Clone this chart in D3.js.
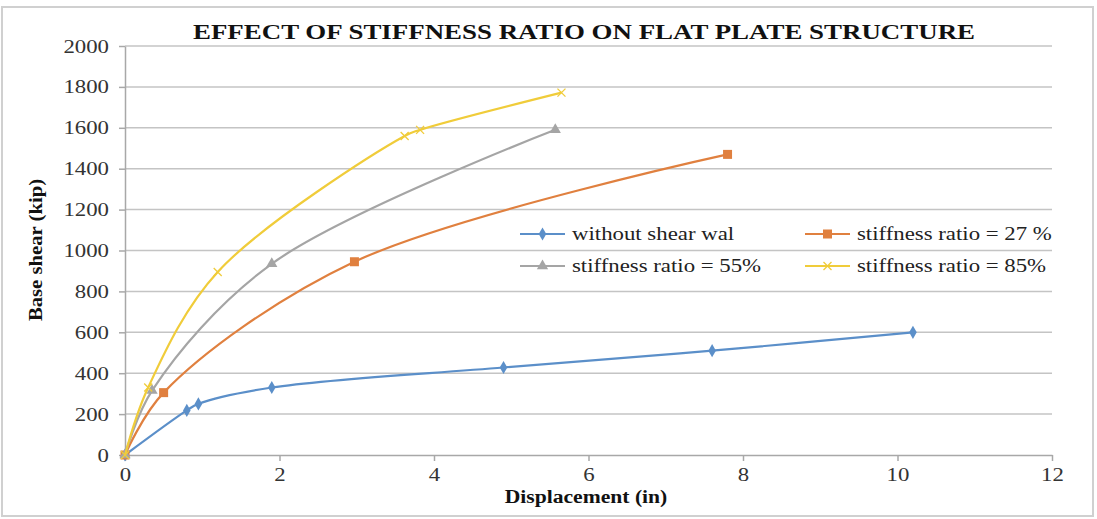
<!DOCTYPE html>
<html>
<head>
<meta charset="utf-8">
<script src="https://cdn.jsdelivr.net/npm/d3@7"></script>
<style>
  body { margin: 0; background: #fff; }
  svg { display: block; }
</style>
</head>
<body>
<svg></svg>
<script>
// Data
const xTicks = [0, 2, 4, 6, 8, 10, 12];
const yTicks = [0, 200, 400, 600, 800, 1000, 1200, 1400, 1600, 1800, 2000];

const withoutWall = [[0, 0], [0.8, 218], [0.95, 250], [1.9, 330], [4.9, 428], [7.6, 510], [10.2, 600]];
const ratio27 = [[0, 0], [0.5, 305], [2.97, 945], [7.8, 1470]];
const ratio55 = [[0, 0], [0.35, 315], [1.9, 935], [5.57, 1590]];
const ratio85 = [[0, 0], [0.3, 330], [1.2, 895], [3.62, 1560], [3.82, 1590], [5.65, 1772]];

const series = [
  { name: "without shear wal", data: withoutWall, color: "#5b8fc9", marker: "diamond" },
  { name: "stiffness ratio = 27 %", data: ratio27, color: "#e0803f", marker: "square" },
  { name: "stiffness ratio = 55%", data: ratio55, color: "#a5a5a5", marker: "triangle" },
  { name: "stiffness ratio = 85%", data: ratio85, color: "#f0cc3a", marker: "cross" }
];

const serif = "'Times New Roman', 'Liberation Serif', 'DejaVu Serif', serif";

const W = 1097, H = 519;
const margin = { l: 125, r: 45, t: 46, b: 64 };
const width = W - margin.l - margin.r;
const height = H - margin.t - margin.b;

// the source picture looks stretched sideways, so widen text a bit
function widen(sel, k) {
  sel.each(function() {
    const len = this.getComputedTextLength();
    d3.select(this).attr("textLength", len * k).attr("lengthAdjust", "spacingAndGlyphs");
  });
}

const root = d3.select("svg").attr("width", W).attr("height", H);

// outer frame
root.append("rect")
  .attr("x", 2).attr("y", 7).attr("width", W - 6).attr("height", H - 10)
  .attr("fill", "none").attr("stroke", "#d0d0d0").attr("stroke-width", 2);

const svg = root.append("g").attr("transform", `translate(${margin.l},${margin.t})`);

// Scales
const xScale = d3.scaleLinear().domain([0, 12]).range([0, width]);
const yScale = d3.scaleLinear().domain([0, 2000]).range([height, 0]);

// Gridlines
svg.append("g")
  .selectAll("line")
  .data(yTicks.filter(d => d > 0))
  .join("line")
    .attr("x1", 0).attr("x2", width)
    .attr("y1", d => yScale(d)).attr("y2", d => yScale(d))
    .attr("stroke", "#c4c4c4").attr("stroke-width", 1.5);

// Axes
const yAxis = svg.append("g")
  .call(d3.axisLeft(yScale).tickValues(yTicks).tickFormat(d3.format("d"))
    .tickSize(6).tickPadding(10).tickSizeOuter(0));
const xAxis = svg.append("g")
  .attr("transform", `translate(0,${height})`)
  .call(d3.axisBottom(xScale).tickValues(xTicks).tickFormat(d3.format("d"))
    .tickSize(6).tickPadding(7).tickSizeOuter(0));

[xAxis, yAxis].forEach(a => {
  a.attr("font-family", serif).attr("font-size", 19);
  a.select(".domain").attr("stroke", "#a8a8a8").attr("stroke-width", 1.5);
  a.selectAll(".tick line").attr("stroke", "#a8a8a8").attr("stroke-width", 1.5);
  a.selectAll(".tick text")
    .style("font-family", serif)
    .style("font-size", "19px")
    .attr("fill", "#333")
    .call(widen, 1.2);
});

// Lines
const line = d3.line()
  .x(d => xScale(d[0]))
  .y(d => yScale(d[1]))
  .curve(d3.curveCatmullRom.alpha(0.5));

function drawMarker(g, type, color) {
  if (type === "diamond") {
    g.append("path").attr("d", d3.symbol(d3.symbolDiamond, 50)()).attr("fill", color);
  } else if (type === "square") {
    g.append("rect").attr("x", -4.5).attr("y", -4.5).attr("width", 9).attr("height", 9).attr("fill", color);
  } else if (type === "triangle") {
    g.append("path").attr("d", d3.symbol(d3.symbolTriangle, 55)()).attr("fill", color);
  } else {
    g.append("path").attr("d", "M-4,-4L4,4M-4,4L4,-4").attr("stroke", color).attr("stroke-width", 1.3);
  }
}

series.forEach(s => {
  svg.append("path")
    .attr("d", line(s.data))
    .attr("fill", "none")
    .attr("stroke", s.color)
    .attr("stroke-width", 2.2);
  s.data.forEach(d => {
    const g = svg.append("g").attr("transform", `translate(${xScale(d[0])},${yScale(d[1])})`);
    drawMarker(g, s.marker, s.color);
  });
});

// Legend
const legendPos = [[395, 188], [680, 188], [395, 220], [680, 220]];
series.forEach((s, i) => {
  const g = svg.append("g").attr("transform", `translate(${legendPos[i][0]},${legendPos[i][1]})`);
  g.append("line").attr("x1", 0).attr("x2", 45).attr("stroke", s.color).attr("stroke-width", 2.2);
  const m = g.append("g").attr("transform", "translate(22.5,0)");
  drawMarker(m, s.marker, s.color);
  g.append("text").attr("x", 52).attr("y", 6)
    .style("font-family", serif).style("font-size", "19px")
    .attr("fill", "#222").text(s.name)
    .call(widen, 1.2);
});

// Titles
root.append("text")
  .attr("x", 584).attr("y", 39)
  .attr("text-anchor", "middle")
  .style("font-family", serif).style("font-size", "22px").style("font-weight", "bold")
  .attr("textLength", 782).attr("lengthAdjust", "spacingAndGlyphs")
  .attr("fill", "#111")
  .text("EFFECT OF STIFFNESS RATIO ON FLAT PLATE STRUCTURE");

root.append("text")
  .attr("x", 586).attr("y", 503)
  .attr("text-anchor", "middle")
  .style("font-family", serif).style("font-size", "18px").style("font-weight", "bold")
  .attr("fill", "#111")
  .text("Displacement (in)")
  .call(widen, 1.2);

root.append("text")
  .attr("transform", "translate(42,250) rotate(-90)")
  .attr("text-anchor", "middle")
  .style("font-family", serif).style("font-size", "18px").style("font-weight", "bold")
  .attr("fill", "#111")
  .text("Base shear (kip)")
  .call(widen, 1.15);
</script>
</body>
</html>
